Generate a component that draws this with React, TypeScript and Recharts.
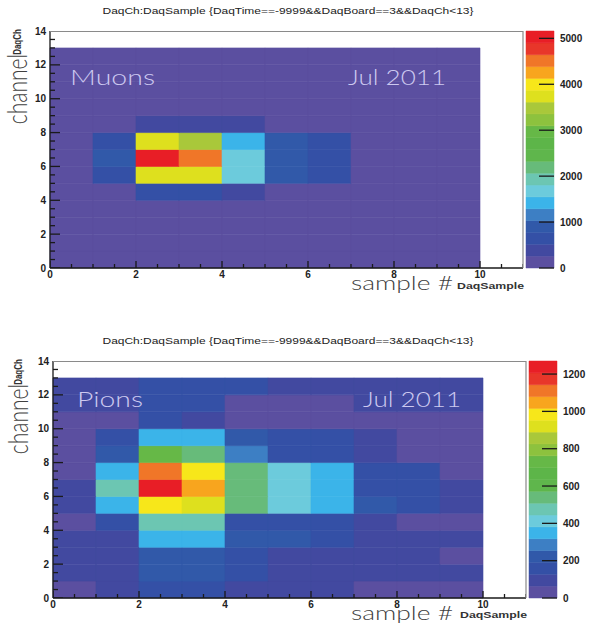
import React from 'react'
import { ReferenceArea, Scatter, ScatterChart, XAxis, YAxis } from 'recharts'

// ROOT-like rainbow palette, 20 contour levels (bottom -> top)
const PALETTE = [
  '#5b4fa0', '#4249a0', '#3450a6', '#3159a9', '#3d7fc4',
  '#3bb4e9', '#6ccbdc', '#6cc6b2', '#67bb7a', '#5fb64c',
  '#5db549', '#66b847', '#8dc23e', '#a9c83a', '#dee01e',
  '#f7e71a', '#f8a51e', '#f07628', '#e8362a', '#e81e26',
]

const sampleBins = [0, 1, 2, 3, 4, 5, 6, 7, 8, 9]
const channelBins = [0, 1, 2, 3, 4, 5, 6, 7, 8, 9, 10, 11, 12]

// counts[channel][sample]
const muonCounts = [
  [40, 35, 45, 50, 40, 35, 30, 30, 25, 30],
  [35, 40, 50, 45, 40, 35, 30, 30, 30, 25],
  [40, 40, 55, 50, 45, 35, 35, 30, 30, 30],
  [40, 45, 70, 65, 50, 40, 35, 30, 30, 30],
  [45, 90, 650, 660, 390, 70, 50, 35, 30, 30],
  [50, 620, 3780, 3720, 1660, 880, 640, 60, 35, 30],
  [55, 800, 5050, 4500, 1650, 890, 650, 60, 35, 30],
  [50, 610, 3750, 3500, 1420, 870, 630, 55, 35, 30],
  [40, 80, 380, 400, 360, 60, 45, 35, 30, 30],
  [35, 40, 60, 60, 50, 40, 35, 30, 30, 25],
  [35, 35, 45, 45, 40, 35, 30, 30, 25, 25],
  [30, 35, 40, 40, 35, 30, 30, 30, 25, 25],
  [30, 30, 35, 35, 30, 30, 30, 25, 25, 25],
]

const pionCounts = [
  [45, 100, 165, 160, 105, 100, 95, 50, 45, 40],
  [100, 105, 210, 205, 150, 100, 95, 100, 90, 95],
  [100, 105, 215, 210, 155, 100, 100, 95, 90, 50],
  [100, 110, 345, 340, 205, 200, 150, 105, 100, 100],
  [50, 150, 480, 470, 175, 150, 150, 100, 50, 45],
  [100, 335, 975, 920, 550, 410, 350, 210, 150, 100],
  [100, 470, 1240, 1045, 555, 415, 355, 150, 140, 100],
  [50, 340, 1110, 990, 545, 405, 345, 150, 140, 50],
  [45, 220, 730, 540, 280, 180, 175, 100, 50, 45],
  [50, 150, 350, 345, 220, 160, 155, 100, 50, 45],
  [50, 45, 150, 100, 50, 45, 50, 45, 50, 45],
  [100, 95, 150, 145, 50, 45, 50, 100, 95, 100],
  [100, 100, 150, 140, 130, 95, 90, 100, 100, 95],
]

const xTicks = [0, 0.5, 1, 1.5, 2, 2.5, 3, 3.5, 4, 4.5, 5, 5.5, 6, 6.5, 7, 7.5, 8, 8.5, 9, 9.5, 10, 10.5, 11]
const yTicks = [0, 0.5, 1, 1.5, 2, 2.5, 3, 3.5, 4, 4.5, 5, 5.5, 6, 6.5, 7, 7.5, 8, 8.5, 9, 9.5, 10, 10.5, 11, 11.5, 12, 12.5, 13, 13.5, 14]
const muonZTicks = [0, 1000, 2000, 3000, 4000, 5000]
const pionZTicks = [0, 200, 400, 600, 800, 1000, 1200]
const muonZMax = 5160
const pionZMax = 1270

const TITLE = 'DaqCh:DaqSample {DaqTime==-9999&&DaqBoard==3&&DaqCh<13}'
const TICK_FONT = { fontSize: 10, fontWeight: 700, fill: '#222', fontFamily: 'Liberation Sans, Arial, sans-serif' }
const AXIS_INK = '#1a1a1a'

const colorFor = (v: number, zMax: number) =>
  PALETTE[Math.min(PALETTE.length - 1, Math.floor((v / zMax) * PALETTE.length))]

const isMajor = (v: number) => v % 2 === 0
const xLabel = (v: number) => (isMajor(v) && v <= 10 ? String(v) : '')
const yLabel = (v: number) => (isMajor(v) ? String(v) : '')

// ROOT style tick marks, placed by the chart's scales and drawn into the frame
const xTickMarks = xTicks.map((t) => ({ x: t, y: 0, major: isMajor(t) }))
const yTickMarks = yTicks.map((t) => ({ x: 0, y: t, major: isMajor(t) }))

const XMark = (p: any) => (
  <line x1={p.cx} x2={p.cx} y1={p.cy} y2={p.cy - (p.payload.major ? 7 : 4)} stroke={AXIS_INK} strokeWidth={1.3} />
)
const YMark = (p: any) => (
  <line x1={p.cx} x2={p.cx + (p.payload.major ? 10 : 5)} y1={p.cy} y2={p.cy} stroke={AXIS_INK} strokeWidth={1.3} />
)

function ZTick(props: any) {
  const { x, y, payload } = props
  const axisX = x - 6
  return (
    <g>
      <line x1={axisX - 15} x2={axisX} y1={y} y2={y} stroke={AXIS_INK} strokeWidth={1.3} />
      <text x={x} y={y + 3.5} textAnchor="start" {...TICK_FONT}>
        {payload.value}
      </text>
    </g>
  )
}

function HeatMap({ counts, zMax, left, top }: { counts: number[][]; zMax: number; left: number; top: number }) {
  const cells = channelBins.flatMap((ch) =>
    sampleBins.map((s) => ({ x: s + 0.5, y: ch + 0.5, s, ch, v: counts[ch][s] })),
  )
  return (
    <div style={{ position: 'absolute', left, top }}>
      <ScatterChart width={530} height={300} margin={{ top: 31, right: 7, bottom: 0, left: 0 }}>
        {cells.map((c) => {
          const fill = colorFor(c.v, zMax)
          return (
            <ReferenceArea
              key={`${c.s}-${c.ch}`}
              x1={c.s}
              x2={c.s + 1}
              y1={c.ch}
              y2={c.ch + 1}
              fill={fill}
              fillOpacity={1}
              stroke={fill}
              strokeWidth={0.6}
              ifOverflow="visible"
            />
          )
        })}
        <Scatter data={xTickMarks} isAnimationActive={false} shape={XMark} />
        <Scatter data={yTickMarks} isAnimationActive={false} shape={YMark} />
        <XAxis
          type="number"
          dataKey="x"
          domain={[0, 11]}
          ticks={xTicks}
          interval={0}
          allowDataOverflow
          height={32}
          tickSize={0}
          tickMargin={3}
          tickLine={false}
          axisLine={{ stroke: AXIS_INK, strokeWidth: 1.3 }}
          tickFormatter={xLabel}
          tick={TICK_FONT}
        />
        <YAxis
          type="number"
          dataKey="y"
          domain={[0, 14]}
          ticks={yTicks}
          interval={0}
          allowDataOverflow
          width={50}
          tickSize={0}
          tickMargin={4}
          tickLine={false}
          axisLine={{ stroke: AXIS_INK, strokeWidth: 1.3 }}
          tickFormatter={yLabel}
          tick={TICK_FONT}
        />
      </ScatterChart>
    </div>
  )
}

function ColorBar({ zMax, zTicks, left, top, axisWidth }: { zMax: number; zTicks: number[]; left: number; top: number; axisWidth: number }) {
  const step = zMax / PALETTE.length
  return (
    <div style={{ position: 'absolute', left, top }}>
      <ScatterChart width={6 + 28 + axisWidth} height={300} margin={{ top: 31, right: 0, bottom: 32, left: 6 }}>
        {PALETTE.map((c, k) => (
          <ReferenceArea key={k} x1={0} x2={1} y1={k * step} y2={(k + 1) * step} fill={c} fillOpacity={1} stroke={c} strokeWidth={0.5} ifOverflow="visible" />
        ))}
        <Scatter data={[{ x: 0.5, y: 0 }]} isAnimationActive={false} fill="none" legendType="none" />
        <XAxis type="number" dataKey="x" domain={[0, 1]} hide />
        <YAxis
          type="number"
          dataKey="y"
          orientation="right"
          domain={[0, zMax]}
          ticks={zTicks}
          interval={0}
          allowDataOverflow
          width={axisWidth}
          tickSize={0}
          tickMargin={6}
          tickLine={false}
          axisLine={false}
          tick={(p: any) => <ZTick {...p} />}
        />
      </ScatterChart>
    </div>
  )
}

function Labels({ dy, dx, tag, tagX, tagLen, dateX, tagY }: { dy: number; dx: number; tag: string; tagX: number; tagLen: number; dateX: number; tagY: number }) {
  const big = { fontFamily: 'Lato, "Open Sans", sans-serif', fontWeight: 300, fill: '#404040' }
  const sub = { fontFamily: 'Liberation Sans, Arial, sans-serif', fontWeight: 700, fill: '#333' }
  const overlay = { fontFamily: 'Lato, "Open Sans", sans-serif', fontWeight: 300, fill: '#cdc9f0' }
  return (
    <g>
      <text x={288} y={dy + 14} fontSize={9.5} textAnchor="middle" textLength={371} lengthAdjust="spacingAndGlyphs" fontFamily="Liberation Sans, Arial, sans-serif" fill="#222">
        {TITLE}
      </text>
      <g transform={`translate(${27 + dx / 3}, ${dy + 89}) scale(1.3, 1) rotate(-90)`}>
        <text x={0} y={0} textAnchor="middle" fontSize={21} {...big}>channel</text>
      </g>
      <g transform={`translate(${21 + dx / 3}, ${dy + 42}) scale(1.3, 1) rotate(-90)`}>
        <text x={0} y={0} textAnchor="middle" fontSize={8} {...sub}>DaqCh</text>
      </g>
      <text x={351} y={dy + 290} fontSize={20} textLength={102} lengthAdjust="spacingAndGlyphs" {...big}>sample #</text>
      <text x={457 + dx} y={dy + 289 - dx / 3} fontSize={9} textLength={67} lengthAdjust="spacingAndGlyphs" {...sub}>DaqSample</text>
      <text x={tagX} y={tagY} fontSize={21} textLength={tagLen} lengthAdjust="spacingAndGlyphs" {...overlay}>{tag}</text>
      <text x={dateX} y={tagY} fontSize={21} textLength={98} lengthAdjust="spacingAndGlyphs" {...overlay}>Jul 2011</text>
    </g>
  )
}

export default function App() {
  return (
    <div style={{ position: 'absolute', left: 0, top: 0, width: 589, height: 628, overflow: 'hidden', background: '#fff' }}>
      <HeatMap counts={muonCounts} zMax={muonZMax} left={0} top={0} />
      <ColorBar zMax={muonZMax} zTicks={muonZTicks} left={520} top={0} axisWidth={35} />
      <HeatMap counts={pionCounts} zMax={pionZMax} left={3} top={330} />
      <ColorBar zMax={pionZMax} zTicks={pionZTicks} left={523} top={330} axisWidth={32} />
      <svg width={589} height={628} style={{ position: 'absolute', left: 0, top: 0, pointerEvents: 'none' }}>
        <Labels dy={0} dx={0} tag="Muons" tagX={70} tagLen={85} dateX={348} tagY={85} />
        <Labels dy={330} dx={3} tag="Pions" tagX={77} tagLen={66} dateX={363} tagY={77 + 330} />
        {/* open frame edges (top and right) */}
        <path d="M50 31.5 H523 V268" fill="none" stroke="#8a8a8a" strokeWidth={1.2} />
        <path d="M53 361.5 H526 V598" fill="none" stroke="#8a8a8a" strokeWidth={1.2} />
      </svg>
    </div>
  )
}
